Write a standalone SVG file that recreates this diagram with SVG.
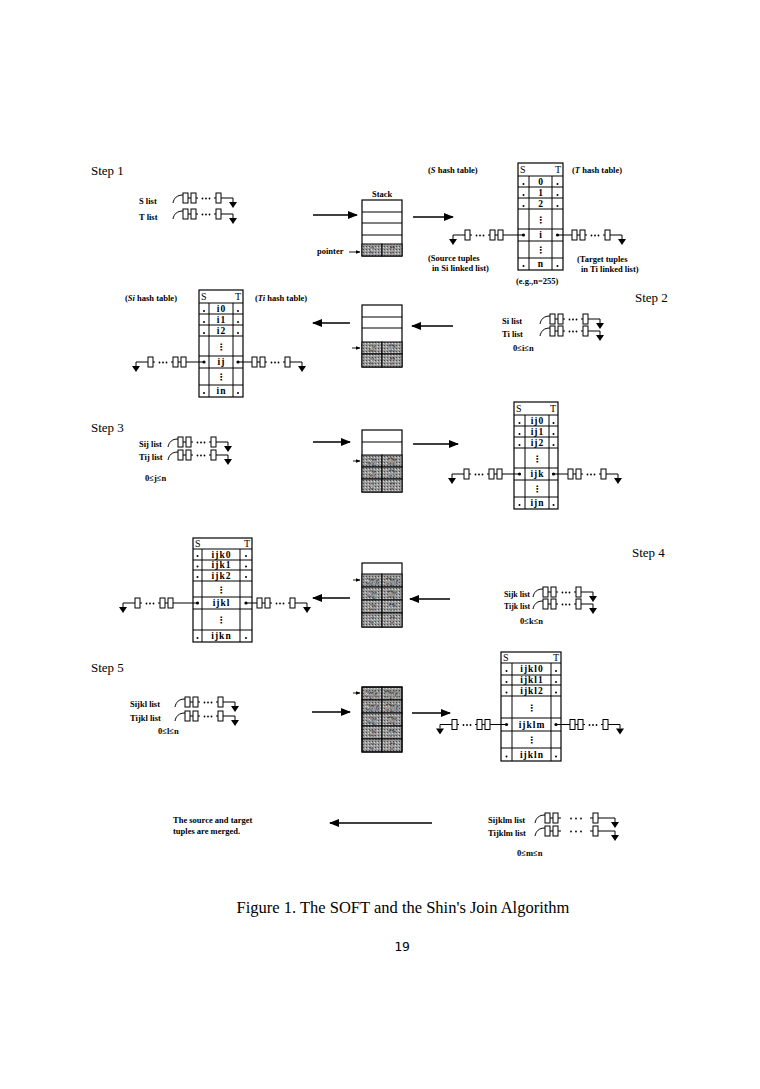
<svg xmlns="http://www.w3.org/2000/svg" width="760" height="1089" viewBox="0 0 760 1089">
<defs>
<style>
.t{font-family:"Liberation Serif",serif;fill:#000}
.step{font-size:13px}
.lb{font-size:8.5px;font-weight:bold}
.cl{font-size:9.5px;font-weight:bold;text-anchor:middle;letter-spacing:1px}
.vd{font-family:"DejaVu Sans",sans-serif;font-size:9px;font-weight:bold;text-anchor:middle}
.hd{font-size:10px}
.sc{font-family:"Liberation Serif",serif;font-size:8px;font-style:italic;font-weight:bold;text-anchor:middle;fill:#f4f4f4;stroke:#222;stroke-width:0.35}
.ln{fill:none;stroke:#000;stroke-width:1}
.box{fill:#fff;stroke:#000;stroke-width:1.2}
.sh{fill:url(#shade);stroke:#000;stroke-width:1}
.arr{stroke:#000;stroke-width:1.6;fill:none;marker-end:url(#ah)}
.parr{stroke:#000;stroke-width:0.9;fill:none;marker-end:url(#ahs)}
.dt{fill:#000}
</style>
<pattern id="shade" width="3" height="3" patternUnits="userSpaceOnUse"><rect width="3" height="3" fill="#9a9a9a"/><rect width="1" height="1" fill="#4a4a4a"/><rect x="2" y="1" width="1" height="1" fill="#d6d6d6"/></pattern>
<marker id="ah" viewBox="0 0 10 8" markerWidth="10" markerHeight="8" refX="9" refY="4" orient="auto" markerUnits="userSpaceOnUse"><path d="M0,0L10,4L0,8z" fill="#000"/></marker>
<marker id="ahs" viewBox="0 0 5 4" markerWidth="5" markerHeight="4" refX="4.5" refY="2" orient="auto" markerUnits="userSpaceOnUse"><path d="M0,0L5,2L0,4z" fill="#000"/></marker>
<g id="chain" class="ln">
<rect x="0" y="-5" width="5" height="10"/>
<rect x="8" y="-5" width="5" height="10"/>
<rect x="33" y="-5" width="5" height="10"/>
<path d="M5,0H8M13,0H15M31,0H33M38,0H50V4"/>
<circle cx="19.5" cy="0.5" r="0.9" fill="#000" stroke="none"/>
<circle cx="23" cy="0.5" r="0.9" fill="#000" stroke="none"/>
<circle cx="26.5" cy="0.5" r="0.9" fill="#000" stroke="none"/>
<path d="M46,4H54L50,10z" fill="#000" stroke="none"/>
</g>
<g id="slist">
<path class="ln" d="M0,5C1,0 4,-3 10,-3"/>
<use href="#chain" x="10"/>
</g>
<g id="slistW" class="ln">
<path d="M0,5C1,0 4,-3 10,-3"/>
<rect x="10" y="-5" width="5" height="10"/>
<rect x="18" y="-5" width="5" height="10"/>
<rect x="58" y="-5" width="5" height="10"/>
<path d="M15,0H18M23,0H26M55,0H58M63,0H80V4"/>
<circle cx="36" cy="0.5" r="0.9" fill="#000" stroke="none"/>
<circle cx="41" cy="0.5" r="0.9" fill="#000" stroke="none"/>
<circle cx="46" cy="0.5" r="0.9" fill="#000" stroke="none"/>
<path d="M76,4H84L80,10z" fill="#000" stroke="none"/>
</g>
</defs>
<rect width="760" height="1089" fill="#fff"/>

<!-- Step 1 -->
<g id="step1-lists">
<text class="t step" x="91" y="175">Step 1</text>
<text class="t lb" x="139" y="204">S list</text>
<text class="t lb" x="139" y="220">T list</text>
<use href="#slist" x="173" y="198"/>
<use href="#slist" x="173" y="214"/>
</g>
<g id="stack1">
<text class="t lb" x="372" y="197">Stack</text>
<rect class="box" x="362" y="200" width="40" height="56"/>
<path class="ln" d="M362,212H402M362,223H402M362,235H402"/>
<rect class="sh" x="362" y="244" width="20" height="12"/>
<rect class="sh" x="382" y="244" width="20" height="12"/>
<text class="sc" x="372" y="253">S</text>
<text class="sc" x="392" y="253">T</text>
<text class="t lb" x="317" y="254">pointer</text>
<path class="parr" d="M349,252H360"/>
</g>
<g id="hash1">
<text class="t lb" x="428" y="173">(<tspan font-style="italic">S</tspan>  hash table)</text>
<text class="t lb" x="572" y="173">(<tspan font-style="italic">T</tspan>  hash table)</text>
<rect class="box" x="518" y="163" width="45" height="107"/>
<path class="ln" d="M518,176H563M529,176V270M552,176V270M518,187H563M518,198H563M518,209H563M518,229H563M518,241H563M518,258H563"/>
<text class="t hd" x="520" y="173">S</text>
<text class="t hd" x="561" y="173" text-anchor="end">T</text>
<text class="t cl" x="541" y="185">0</text>
<text class="t cl" x="541" y="196">1</text>
<text class="t cl" x="541" y="207">2</text>
<text class="vd" x="540.5" y="223">⋮</text>
<text class="t cl" x="541" y="238">i</text>
<text class="vd" x="540.5" y="253">⋮</text>
<text class="t cl" x="541" y="267">n</text>
<g class="dt"><circle cx="523.5" cy="184" r="1"/><circle cx="523.5" cy="195" r="1"/><circle cx="523.5" cy="206" r="1"/><circle cx="523.5" cy="266" r="1"/><circle cx="557.5" cy="184" r="1"/><circle cx="557.5" cy="195" r="1"/><circle cx="557.5" cy="206" r="1"/><circle cx="557.5" cy="266" r="1"/><circle cx="523.5" cy="235" r="1.6"/><circle cx="557.5" cy="235" r="1.6"/></g>
<path class="ln" d="M523.5,235H503M557.5,235H572"/>
<use href="#chain" transform="translate(503,235) scale(-1,1)"/>
<use href="#chain" transform="translate(572,235)"/>
<text class="t lb" x="428" y="261">(Source tuples</text>
<text class="t lb" x="432" y="271">in Si linked list)</text>
<text class="t lb" x="577" y="262">(Target tuples</text>
<text class="t lb" x="581" y="272">in Ti linked list)</text>
<text class="t lb" x="516" y="284">(e.g.,n=255)</text>
</g>

<!-- Step 2 -->
<g id="hash2">
<text class="t lb" x="125" y="301">(<tspan font-style="italic">Si</tspan>  hash table)</text>
<text class="t lb" x="255" y="301">(<tspan font-style="italic">Ti</tspan>  hash table)</text>
<rect class="box" x="199" y="290" width="44" height="107"/>
<path class="ln" d="M199,303H243M209,303V397M233,303V397M199,314H243M199,325H243M199,336H243M199,356H243M199,368H243M199,385H243"/>
<text class="t hd" x="201" y="300">S</text>
<text class="t hd" x="241" y="300" text-anchor="end">T</text>
<text class="t cl" x="221.5" y="312">i0</text>
<text class="t cl" x="221.5" y="323">i1</text>
<text class="t cl" x="221.5" y="334">i2</text>
<text class="vd" x="221" y="350">⋮</text>
<text class="t cl" x="221.5" y="365">ij</text>
<text class="vd" x="221" y="380">⋮</text>
<text class="t cl" x="221.5" y="394">in</text>
<g class="dt"><circle cx="204" cy="311" r="1"/><circle cx="204" cy="322" r="1"/><circle cx="204" cy="333" r="1"/><circle cx="204" cy="393" r="1"/><circle cx="238" cy="311" r="1"/><circle cx="238" cy="322" r="1"/><circle cx="238" cy="333" r="1"/><circle cx="238" cy="393" r="1"/><circle cx="204" cy="362" r="1.6"/><circle cx="238" cy="362" r="1.6"/></g>
<path class="ln" d="M204,362H186M238,362H252"/>
<use href="#chain" transform="translate(186,362) scale(-1,1)"/>
<use href="#chain" transform="translate(252,362)"/>
</g>
<g id="stack2">
<rect class="box" x="362" y="305" width="40" height="62"/>
<path class="ln" d="M362,317H402M362,328H402"/>
<rect class="sh" x="362" y="342" width="20" height="12"/>
<rect class="sh" x="382" y="342" width="20" height="12"/>
<rect class="sh" x="362" y="354" width="20" height="13"/>
<rect class="sh" x="382" y="354" width="20" height="13"/>
<text class="sc" x="372" y="351">Si</text>
<text class="sc" x="392" y="351">Ti</text>
<text class="sc" x="372" y="364">S</text>
<text class="sc" x="392" y="364">T</text>
<path class="parr" d="M352,348H360"/>
</g>
<g id="step2-lists">
<text class="t step" x="635" y="302">Step 2</text>
<text class="t lb" x="502" y="324">Si list</text>
<text class="t lb" x="502" y="337">Ti list</text>
<use href="#slist" x="540" y="319"/>
<use href="#slist" x="540" y="331"/>
<text class="t lb" x="513" y="351">0≤i≤n</text>
</g>

<!-- Step 3 -->
<g id="step3-lists">
<text class="t step" x="91" y="432">Step 3</text>
<text class="t lb" x="139" y="447">Sij list</text>
<text class="t lb" x="139" y="460">Tij list</text>
<use href="#slist" x="168" y="442"/>
<use href="#slist" x="168" y="455"/>
<text class="t lb" x="145" y="481">0≤j≤n</text>
</g>
<g id="stack3">
<rect class="box" x="362" y="430" width="40" height="62"/>
<path class="ln" d="M362,442H402"/>
<rect class="sh" x="362" y="455" width="20" height="12"/>
<rect class="sh" x="382" y="455" width="20" height="12"/>
<rect class="sh" x="362" y="467" width="20" height="12"/>
<rect class="sh" x="382" y="467" width="20" height="12"/>
<rect class="sh" x="362" y="479" width="20" height="13"/>
<rect class="sh" x="382" y="479" width="20" height="13"/>
<text class="sc" x="372" y="464">Sij</text>
<text class="sc" x="392" y="464">Tij</text>
<text class="sc" x="372" y="476">Si</text>
<text class="sc" x="392" y="476">Ti</text>
<text class="sc" x="372" y="489">S</text>
<text class="sc" x="392" y="489">T</text>
<path class="parr" d="M353,461H360"/>
</g>
<g id="hash3">
<rect class="box" x="514" y="402" width="44" height="107"/>
<path class="ln" d="M514,415H558M525,415V509M549,415V509M514,426H558M514,437H558M514,448H558M514,468H558M514,480H558M514,497H558"/>
<text class="t hd" x="516" y="412">S</text>
<text class="t hd" x="556" y="412" text-anchor="end">T</text>
<text class="t cl" x="537.5" y="424">ij0</text>
<text class="t cl" x="537.5" y="435">ij1</text>
<text class="t cl" x="537.5" y="446">ij2</text>
<text class="vd" x="537" y="462">⋮</text>
<text class="t cl" x="537.5" y="477">ijk</text>
<text class="vd" x="537" y="492">⋮</text>
<text class="t cl" x="537.5" y="506">ijn</text>
<g class="dt"><circle cx="519.5" cy="423" r="1"/><circle cx="519.5" cy="434" r="1"/><circle cx="519.5" cy="445" r="1"/><circle cx="519.5" cy="505" r="1"/><circle cx="553.5" cy="423" r="1"/><circle cx="553.5" cy="434" r="1"/><circle cx="553.5" cy="445" r="1"/><circle cx="553.5" cy="505" r="1"/><circle cx="519.5" cy="474" r="1.6"/><circle cx="553.5" cy="474" r="1.6"/></g>
<path class="ln" d="M519.5,474H502M553.5,474H568"/>
<use href="#chain" transform="translate(502,474) scale(-1,1)"/>
<use href="#chain" transform="translate(568,474)"/>
</g>

<!-- Step 4 -->
<g id="hash4">
<rect class="box" x="193" y="538" width="59" height="104"/>
<path class="ln" d="M193,549H252M202,549V642M240,549V642M193,560H252M193,570H252M193,581H252M193,597H252M193,609H252M193,630H252"/>
<text class="t hd" x="195" y="547">S</text>
<text class="t hd" x="250" y="547" text-anchor="end">T</text>
<text class="t cl" x="221.5" y="558">ijk0</text>
<text class="t cl" x="221.5" y="568">ijk1</text>
<text class="t cl" x="221.5" y="579">ijk2</text>
<text class="vd" x="221" y="593">⋮</text>
<text class="t cl" x="221.5" y="606">ijkl</text>
<text class="vd" x="221" y="623">⋮</text>
<text class="t cl" x="221.5" y="639">ijkn</text>
<g class="dt"><circle cx="197.5" cy="556" r="1"/><circle cx="197.5" cy="566.5" r="1"/><circle cx="197.5" cy="577" r="1"/><circle cx="197.5" cy="638" r="1"/><circle cx="246" cy="556" r="1"/><circle cx="246" cy="566.5" r="1"/><circle cx="246" cy="577" r="1"/><circle cx="246" cy="638" r="1"/><circle cx="197.5" cy="603" r="1.6"/><circle cx="246" cy="603" r="1.6"/></g>
<path class="ln" d="M197.5,603H173M246,603H257"/>
<use href="#chain" transform="translate(173,603) scale(-1,1)"/>
<use href="#chain" transform="translate(257,603)"/>
</g>
<g id="stack4">
<rect class="box" x="362" y="563" width="40" height="64"/>
<rect class="sh" x="362" y="574" width="20" height="13"/>
<rect class="sh" x="382" y="574" width="20" height="13"/>
<rect class="sh" x="362" y="587" width="20" height="13"/>
<rect class="sh" x="382" y="587" width="20" height="13"/>
<rect class="sh" x="362" y="600" width="20" height="13"/>
<rect class="sh" x="382" y="600" width="20" height="13"/>
<rect class="sh" x="362" y="613" width="20" height="14"/>
<rect class="sh" x="382" y="613" width="20" height="14"/>
<text class="sc" x="372" y="584">Sijk</text>
<text class="sc" x="392" y="584">Tijk</text>
<text class="sc" x="372" y="597">Sij</text>
<text class="sc" x="392" y="597">Tij</text>
<text class="sc" x="372" y="610">Si</text>
<text class="sc" x="392" y="610">Ti</text>
<text class="sc" x="372" y="623">S</text>
<text class="sc" x="392" y="623">T</text>
<path class="parr" d="M353,580H360"/>
</g>
<g id="step4-lists">
<text class="t step" x="632" y="557">Step 4</text>
<text class="t lb" x="504" y="597" textLength="26" lengthAdjust="spacingAndGlyphs">Sijk list</text>
<text class="t lb" x="504" y="609" textLength="26" lengthAdjust="spacingAndGlyphs">Tijk list</text>
<use href="#slist" x="533" y="592"/>
<use href="#slist" x="533" y="604"/>
<text class="t lb" x="520" y="624">0≤k≤n</text>
</g>

<!-- Step 5 -->
<g id="step5-lists">
<text class="t step" x="91" y="672">Step 5</text>
<text class="t lb" x="130" y="707">Sijkl list</text>
<text class="t lb" x="130" y="721">Tijkl list</text>
<use href="#slist" x="175" y="702"/>
<use href="#slist" x="175" y="716"/>
<text class="t lb" x="158" y="734">0≤l≤n</text>
</g>
<g id="stack5">
<rect class="sh" x="362" y="687" width="20" height="13"/>
<rect class="sh" x="382" y="687" width="20" height="13"/>
<rect class="sh" x="362" y="700" width="20" height="13"/>
<rect class="sh" x="382" y="700" width="20" height="13"/>
<rect class="sh" x="362" y="713" width="20" height="13"/>
<rect class="sh" x="382" y="713" width="20" height="13"/>
<rect class="sh" x="362" y="726" width="20" height="13"/>
<rect class="sh" x="382" y="726" width="20" height="13"/>
<rect class="sh" x="362" y="739" width="20" height="13"/>
<rect class="sh" x="382" y="739" width="20" height="13"/>
<rect x="362" y="687" width="40" height="65" fill="none" stroke="#000" stroke-width="1.2"/>
<text class="sc" x="372" y="697">Sijkl</text>
<text class="sc" x="392" y="697">Tijkl</text>
<text class="sc" x="372" y="710">Sijk</text>
<text class="sc" x="392" y="710">Tijk</text>
<text class="sc" x="372" y="723">Sij</text>
<text class="sc" x="392" y="723">Tij</text>
<text class="sc" x="372" y="736">Si</text>
<text class="sc" x="392" y="736">Ti</text>
<text class="sc" x="372" y="749">S</text>
<text class="sc" x="392" y="749">T</text>
<path class="parr" d="M353,693H360"/>
</g>
<g id="hash5">
<rect class="box" x="501" y="652" width="60" height="109"/>
<path class="ln" d="M501,663H561M512,663V761M551,663V761M501,675H561M501,685H561M501,696H561M501,718H561M501,731H561M501,748H561"/>
<text class="t hd" x="503" y="661">S</text>
<text class="t hd" x="559" y="661" text-anchor="end">T</text>
<text class="t cl" x="532" y="672">ijkl0</text>
<text class="t cl" x="532" y="683">ijkl1</text>
<text class="t cl" x="532" y="693.5">ijkl2</text>
<text class="vd" x="531.5" y="711">⋮</text>
<text class="t cl" x="532" y="727.5">ijklm</text>
<text class="vd" x="531.5" y="743">⋮</text>
<text class="t cl" x="532" y="757.5">ijkln</text>
<g class="dt"><circle cx="506.5" cy="671" r="1"/><circle cx="506.5" cy="682" r="1"/><circle cx="506.5" cy="692.5" r="1"/><circle cx="506.5" cy="756.5" r="1"/><circle cx="556" cy="671" r="1"/><circle cx="556" cy="682" r="1"/><circle cx="556" cy="692.5" r="1"/><circle cx="556" cy="756.5" r="1"/><circle cx="506.5" cy="724.5" r="1.6"/><circle cx="556" cy="724.5" r="1.6"/></g>
<path class="ln" d="M506.5,724.5H490M556,724.5H570"/>
<use href="#chain" transform="translate(490,724.5) scale(-1,1)"/>
<use href="#chain" transform="translate(570,724.5)"/>
</g>

<!-- Final -->
<g id="merged">
<text class="t lb" x="173" y="823">The source and target</text>
<text class="t lb" x="173" y="834">tuples are merged.</text>
</g>
<g id="final-lists">
<text class="t lb" x="488" y="823">Sijklm list</text>
<text class="t lb" x="488" y="836">Tijklm list</text>
<use href="#slistW" x="535" y="818"/>
<use href="#slistW" x="535" y="831"/>
<text class="t lb" x="517" y="856">0≤m≤n</text>
</g>

<g id="connectors">
<path class="arr" d="M313,215H357"/>
<path class="arr" d="M413,217H453"/>
<path class="arr" d="M350,323H313"/>
<path class="arr" d="M453,326H412"/>
<path class="arr" d="M313,442H350"/>
<path class="arr" d="M413,444H458"/>
<path class="arr" d="M350,598H313"/>
<path class="arr" d="M450,599H410"/>
<path class="arr" d="M312,712H350"/>
<path class="arr" d="M412,713H450"/>
<path class="arr" d="M432,823H330"/>
</g>

<text class="t" x="403" y="913" font-size="16.5" text-anchor="middle">Figure 1. The SOFT and the Shin's Join Algorithm</text>
<text x="402" y="951" font-family="DejaVu Sans Mono, monospace" font-size="13" text-anchor="middle">19</text>
</svg>
